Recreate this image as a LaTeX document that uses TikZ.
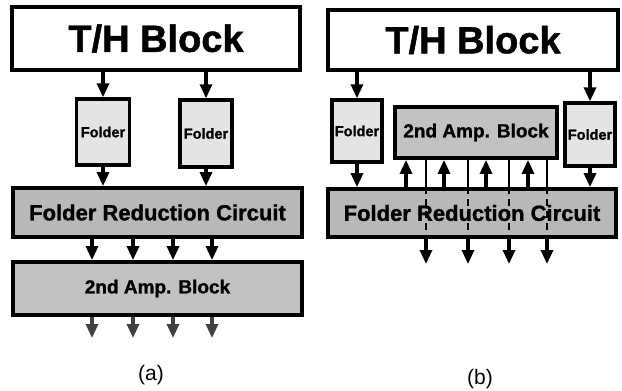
\documentclass[tikz,border=0pt]{standalone}
\usepackage{fontspec}
\setmainfont[BoldFeatures={FakeBold=1.2}]{Liberation Sans}
\usetikzlibrary{arrows.meta}
\definecolor{frcfill}{HTML}{B8B8B8}
\definecolor{ampfill}{HTML}{C2C2C2}
\definecolor{foldfill}{HTML}{E4E4E4}
\begin{document}
\begin{tikzpicture}[x=1pt,y=-1pt,
  box/.style={draw, line width=3.8pt, inner sep=0pt, font=\bfseries},
  thbox/.style={box, fill=white, font=\bfseries\fontsize{38}{40}\selectfont},
  foldbox/.style={box, fill=foldfill, line width=3.4pt, font=\bfseries\fontsize{14.5}{16}\selectfont},
  frcbox/.style={box, fill=frcfill, font=\bfseries\fontsize{22}{24}\selectfont},
  ampbox/.style={box, fill=ampfill, font=\bfseries\fontsize{19}{22}\selectfont},
  arr/.style={line width=3.2pt, -{Triangle[length=14pt,width=12pt]}},
  outarr/.style={arr, draw=black!75, fill=black!75},
  thin line/.style={line width=2.2pt},
  dash line/.style={line width=2.2pt, dash pattern=on 7pt off 5pt},
  lab/.style={font=\fontsize{21}{24}\selectfont, inner sep=0pt}
]
\useasboundingbox (0,0) rectangle (622,391);

% ---------- panel (a) ----------
\node[thbox, minimum width=288pt, minimum height=63pt] (th1) at (156,38.5) {T/H Block};
\node[foldbox, minimum width=53pt, minimum height=66pt] (fa1) at (103,132) {Folder};
\node[foldbox, minimum width=52pt, minimum height=67pt] (fa2) at (206,133.5) {Folder};
\node[frcbox, minimum width=289pt, minimum height=49pt] (frc1) at (157.5,212.5) {Folder Reduction Circuit};
\node[ampbox, minimum width=289pt, minimum height=53pt] (amp1) at (157.5,288.5) {2nd Amp. Block};

\draw[arr] (th1.south -| fa1.north) -- (fa1.north);
\draw[arr] (th1.south -| fa2.north) -- (fa2.north);
\draw[arr] (fa1.south) -- (fa1.south |- frc1.north);
\draw[arr] (fa2.south) -- (fa2.south |- frc1.north);
\foreach \x [count=\i] in {92,133,173,212} {
  \draw[arr] (\x,0 |- frc1.south) -- (\x,0 |- amp1.north);
  \coordinate (oa\i) at (\x,338);
  \draw[outarr] (\x,0 |- amp1.south) -- (oa\i);
}
\node[lab] (la) at (151,375) {(a)};

% ---------- panel (b) ----------
\node[thbox, minimum width=290pt, minimum height=60pt] (th2) at (473,40) {T/H Block};
\node[foldbox, minimum width=50pt, minimum height=62pt] (fb1) at (357,131) {Folder};
\node[foldbox, minimum width=50pt, minimum height=63pt] (fb2) at (590,134.5) {Folder};
\node[ampbox, minimum width=162pt, minimum height=51pt] (amp2) at (476,132.5) {2nd Amp. Block};
\node[frcbox, minimum width=288pt, minimum height=48pt] (frc2) at (472,213) {Folder Reduction Circuit};

\draw[arr] (th2.south -| fb1.north) -- (fb1.north);
\draw[arr] (th2.south -| fb2.north) -- (fb2.north);
\draw[arr] (fb1.south) -- (fb1.south |- frc2.north);
\draw[arr] (fb2.south) -- (fb2.south |- frc2.north);
\foreach \x in {406,444,486,528} {
  \draw[arr] (\x,0 |- frc2.north) -- (\x,0 |- amp2.south);
}
\foreach \x [count=\i] in {426,468,509,547} {
  \draw[thin line] (\x,0 |- amp2.south) -- (\x,0 |- frc2.north);
  \draw[dash line] (\x,0 |- frc2.north) -- (\x,0 |- frc2.south);
  \coordinate (ob\i) at (\x,264);
  \draw[arr] (\x,0 |- frc2.south) -- (ob\i);
}
\node[lab] (lb) at (480,379) {(b)};
\end{tikzpicture}
\end{document}
